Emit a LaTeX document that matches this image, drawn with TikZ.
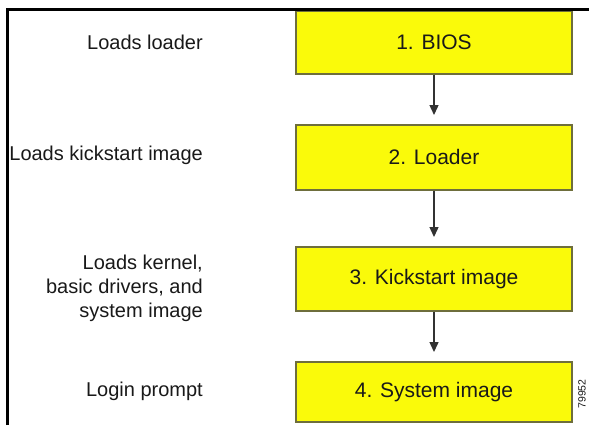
\documentclass[tikz,border=0pt]{standalone}
\usepackage{fontspec}
\setmainfont{Liberation Sans}
\usetikzlibrary{arrows.meta}
\definecolor{boxfill}{RGB}{250,250,10}
\definecolor{boxline}{RGB}{110,110,60}
\definecolor{txt}{RGB}{25,25,25}
\definecolor{arr}{RGB}{50,50,50}
\tikzset{
  stepbox/.style={draw=boxline, line width=1.6bp, fill=boxfill, minimum width=276bp, inner sep=0pt, anchor=north, text=txt, font=\fontsize{21bp}{25bp}\selectfont},
  lbl/.style={anchor=east, align=right, text=txt, inner sep=0pt, font=\fontsize{20bp}{24bp}\selectfont},
  flow/.style={draw=arr, line width=1.4bp, -{Triangle[length=10bp,width=9bp]}, shorten >=9bp},
  frameline/.style={line width=2.2bp, black}
}
\begin{document}
\begin{tikzpicture}[x=1bp,y=-1bp]
\useasboundingbox (0,0) rectangle (589,425);
\fill[white] (0,0) rectangle (589,425);
\node[stepbox, minimum height=63bp] (b1) at (434,10) {1. BIOS};
\node[stepbox, minimum height=65bp] (b2) at (434,124) {2. Loader};
\node[stepbox, minimum height=64bp] (b3) at (434,246) {3. Kickstart image};
\node[stepbox, minimum height=60bp] (b4) at (434,361) {4. System image};
\draw[frameline] (7.5,425) -- (7.5,9.5) -- (589,9.5);
\node[lbl] (l1) at (203,42) {Loads loader};
\node[lbl] (l2) at (203,155) {Loads kickstart image};
\node[lbl] (l3) at (203,288) {Loads kernel,\\basic drivers, and\\system image};
\node[lbl] (l4) at (203,391) {Login prompt};
\draw[flow] (b1.south) -- (b2.north);
\draw[flow] (b2.south) -- (b3.north);
\draw[flow] (b3.south) -- (b4.north);
\node[rotate=90, text=txt, inner sep=0pt, font=\fontsize{10.5bp}{12bp}\selectfont] (id) at (582,394) {79952};
\end{tikzpicture}
\end{document}
